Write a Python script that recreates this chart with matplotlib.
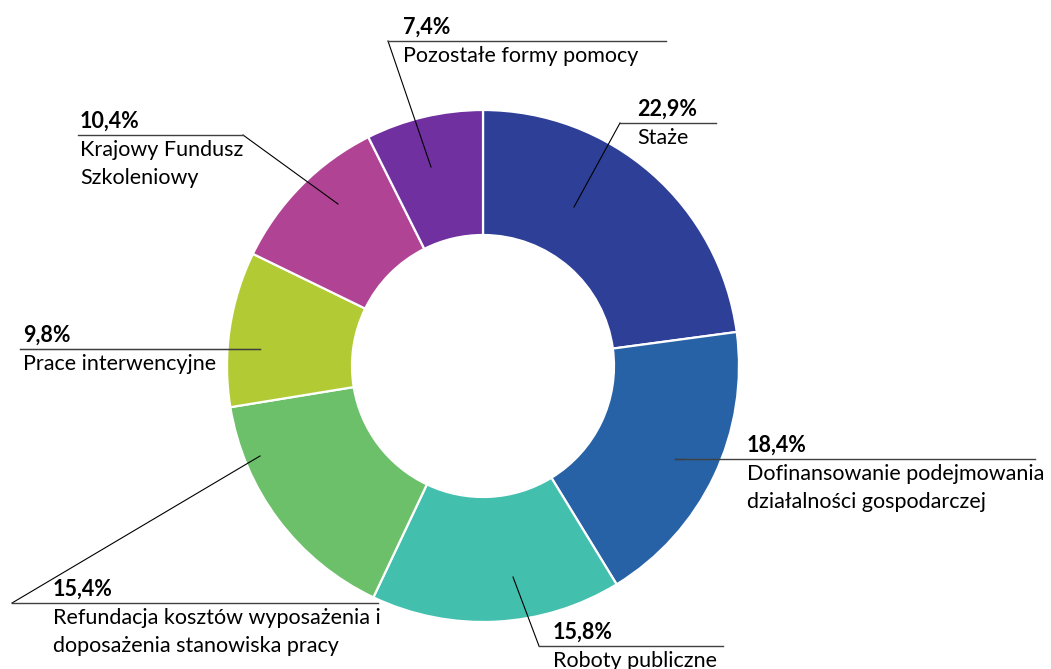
import matplotlib.pyplot as plt

plt.rcParams['font.family'] = ['Lato', 'DejaVu Sans']

# data
labels = ['Staże',
          'Dofinansowanie podejmowania\ndziałalności gospodarczej',
          'Roboty publiczne',
          'Refundacja kosztów wyposażenia i\ndoposażenia stanowiska pracy',
          'Prace interwencyjne',
          'Krajowy Fundusz\nSzkoleniowy',
          'Pozostałe formy pomocy']
values = [22.9, 18.4, 15.8, 15.4, 9.8, 10.4, 7.4]
colors = ['#2E3F98', '#2862A6', '#43BFAE', '#6CC06A', '#B2CB35', '#B04394', '#7030A0']

# label layout in pixels (y measured from top): anchor in wedge, elbow, line end, text x
layout = [
    ((574, 207), (620, 123), 716, 637),
    ((684, 459), (675, 459), 1035, 747),
    ((513, 577), (539, 646), 723, 553),
    ((260, 456), (12, 603), 378, 53),
    ((260, 349), (20, 349), 260, 23),
    ((338, 204), (243, 135), 78, 80),
    ((431, 167), (388, 41), 666, 403),
]

W, H = 1051, 669
fig = plt.figure(figsize=(W / 100, H / 100), dpi=100)
ax = fig.add_axes([0, 0, 1, 1])

def py(y):
    return H - y

R = 256
ax.pie(values, colors=colors, startangle=90, counterclock=False,
       radius=R, center=(483, py(366)),
       wedgeprops=dict(width=125, edgecolor='white', linewidth=1.6))

for lab, v, (anc, elb, xend, tx) in zip(labels, values, layout):
    ax.plot([anc[0], elb[0]], [py(anc[1]), py(elb[1])], color='black', lw=0.8)
    ax.plot([elb[0], xend], [py(elb[1]), py(elb[1])], color='#404040', lw=1.0)
    pct = ('%.1f%%' % v).replace('.', ',')
    ax.text(tx, py(elb[1]) + 3, pct, fontsize=15.5, fontweight='bold',
            ha='left', va='bottom', color='black')
    ax.text(tx, py(elb[1]) - 5, lab, fontsize=15.5, ha='left', va='top',
            color='black', linespacing=1.5)

ax.set_xlim(0, W)
ax.set_ylim(0, H)
ax.set_aspect('auto')
ax.set_axis_off()
fig.savefig('out.png', dpi=100)
